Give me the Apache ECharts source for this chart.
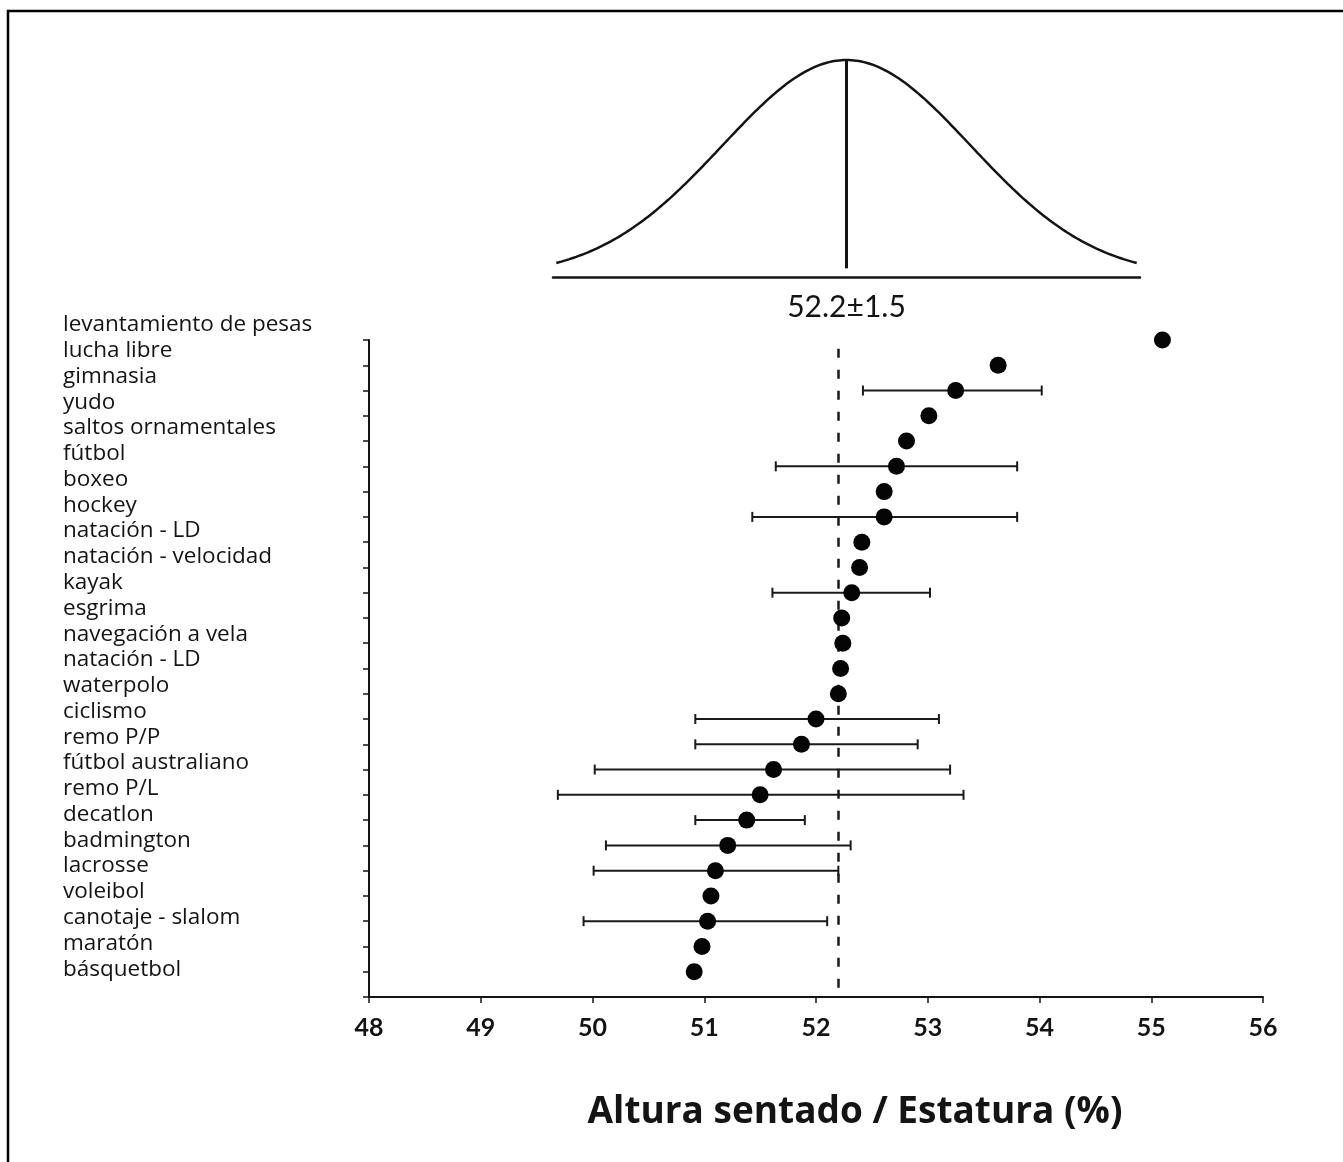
<!DOCTYPE html>
<html>
<head>
<meta charset="utf-8">
<script src="https://cdn.jsdelivr.net/npm/echarts@6/dist/echarts.min.js"></script>
<style>
  html, body { margin: 0; padding: 0; background: #fff; }
  #chart { width: 1343px; height: 1162px; }
</style>
</head>
<body>
<div id="chart"></div>
<script>
// Sports, top to bottom
const sports = [
  'levantamiento de pesas', 'lucha libre', 'gimnasia', 'yudo', 'saltos ornamentales',
  'fútbol', 'boxeo', 'hockey', 'natación - LD', 'natación - velocidad', 'kayak',
  'esgrima', 'navegación a vela', 'natación - LD', 'waterpolo', 'ciclismo', 'remo P/P',
  'fútbol australiano', 'remo P/L', 'decatlon', 'badmington', 'lacrosse', 'voleibol',
  'canotaje - slalom', 'maratón', 'básquetbol'
];

// Mean sitting height / stature (%) for each sport
const means = [
  55.10, 53.63, 53.25, 53.01, 52.81, 52.72, 52.61, 52.61, 52.41, 52.39, 52.32,
  52.23, 52.24, 52.22, 52.20, 52.00, 51.87, 51.62, 51.50, 51.38, 51.21, 51.10,
  51.06, 51.03, 50.98, 50.91
];

// Range ends (mean ± 1 SD) where they are reported, null otherwise
const rangeLow = [
  null, null, 52.42, null, null, 51.64, null, 51.43, null, null, 51.61,
  null, null, null, null, 50.92, 50.92, 50.02, 49.69, 50.92, 50.12, 50.01,
  null, 49.92, null, null
];
const rangeHigh = [
  null, null, 54.02, null, null, 53.80, null, 53.80, null, null, 53.02,
  null, null, null, null, 53.10, 52.91, 53.20, 53.32, 51.90, 52.31, 52.20,
  null, 52.10, null, null
];

// Reference population: 52.2 ± 1.5
const popMean = 52.2;
const popSd = 1.5;

// x-axis ticks
const xMin = 48, xMax = 56, xStep = 1;

// Bell curve of the reference population (peak scaled to 1).
// The sketch is drawn over ±2.34 SD, spread across its own axis.
const curveSd = 2.34;          // SDs shown on each side of the mean
const curveHalfWidth = 3.51;   // half width of the sketch, in its axis units
const curve = [];
for (let i = 0; i <= 234; i++) {
  const x = popMean - curveHalfWidth + i * (2 * curveHalfWidth / 234);
  const z = (x - popMean) / curveHalfWidth * curveSd;
  curve.push([x, Math.exp(-0.5 * z * z)]);
}

const dots = means.map((m, i) => [m, i]);
const ranges = [];
rangeLow.forEach((lo, i) => {
  if (lo !== null) ranges.push([lo, rangeHigh[i], i]);
});

const ink = '#141414';
const chart = echarts.init(document.getElementById('chart'), null, { renderer: 'canvas' });

chart.setOption({
  backgroundColor: '#ffffff',
  animation: false,
  graphic: [{
    type: 'rect',
    shape: { x: 8, y: 11, width: 1400, height: 1300 },
    style: { fill: 'none', stroke: '#000', lineWidth: 2.5 },
    silent: true
  }],
  grid: [
    { left: 369, top: 340, width: 894, height: 657 },   // dot plot
    { left: 369, top: 312, width: 1, height: 670 },     // sport names
    { left: 553, top: 60, width: 587, height: 217 }     // reference curve
  ],
  xAxis: [
    {
      gridIndex: 0, type: 'value', min: xMin, max: xMax, interval: xStep,
      axisLine: { show: true, onZero: false, lineStyle: { color: ink, width: 2 } },
      axisTick: { show: true, length: 6, lineStyle: { color: ink, width: 1.5 } },
      axisLabel: { margin: 18, color: ink, fontFamily: 'Lato', fontSize: 25, fontWeight: 'bold' },
      splitLine: { show: false },
      name: 'Altura sentado / Estatura (%)',
      nameLocation: 'middle', nameGap: 97,
      nameTextStyle: {
        color: ink, fontFamily: 'Open Sans', fontSize: 37, fontWeight: 'bold',
        padding: [0, 0, 0, 78]
      }
    },
    { gridIndex: 1, type: 'value', show: false },
    {
      gridIndex: 2, type: 'value', min: popMean - 3.55, max: popMean + 3.55,
      axisLine: { show: true, lineStyle: { color: ink, width: 2.5 } },
      axisTick: { show: false }, axisLabel: { show: false }, splitLine: { show: false },
      name: popMean.toFixed(1) + '±' + popSd.toFixed(1),
      nameLocation: 'middle', nameGap: 15,
      nameTextStyle: { color: ink, fontFamily: 'Lato', fontSize: 30 }
    }
  ],
  yAxis: [
    {
      gridIndex: 0, type: 'value', min: 0, max: sports.length, interval: 1, inverse: true,
      axisLine: { show: true, lineStyle: { color: ink, width: 2 } },
      axisTick: { show: true, length: 6, lineStyle: { color: ink, width: 1.5 } },
      axisLabel: { show: false }, splitLine: { show: false }
    },
    {
      gridIndex: 1, type: 'category', data: sports, inverse: true,
      axisLine: { show: false }, axisTick: { show: false },
      axisLabel: {
        interval: 0, margin: 306, align: 'left', color: ink,
        fontFamily: 'Open Sans', fontSize: 22.5
      }
    },
    { gridIndex: 2, type: 'value', min: 0, max: 1, show: false }
  ],
  series: [
    {
      name: 'rangos', type: 'custom', xAxisIndex: 0, yAxisIndex: 0,
      data: ranges, encode: { x: [0, 1], y: 2 }, z: 3,
      renderItem: function (params, api) {
        const a = api.coord([api.value(0), api.value(2)]);
        const b = api.coord([api.value(1), api.value(2)]);
        const cap = 5;
        const st = { stroke: '#1a1a1a', lineWidth: 2 };
        return {
          type: 'group',
          children: [
            { type: 'line', shape: { x1: a[0], y1: a[1], x2: b[0], y2: b[1] }, style: st },
            { type: 'line', shape: { x1: a[0], y1: a[1] - cap, x2: a[0], y2: a[1] + cap }, style: st },
            { type: 'line', shape: { x1: b[0], y1: b[1] - cap, x2: b[0], y2: b[1] + cap }, style: st }
          ]
        };
      }
    },
    {
      name: 'medias', type: 'scatter', xAxisIndex: 0, yAxisIndex: 0,
      data: dots, symbol: 'circle', symbolSize: 17, z: 5,
      itemStyle: { color: '#050505', opacity: 1 },
      markLine: {
        silent: true, symbol: 'none', label: { show: false },
        lineStyle: { color: '#1a1a1a', width: 2.5, type: [9, 12] },
        data: [[{ coord: [popMean, 0.35] }, { coord: [popMean, sports.length] }]]
      }
    },
    {
      name: 'curva', type: 'line', xAxisIndex: 2, yAxisIndex: 2,
      data: curve, showSymbol: false, smooth: false, clip: false,
      lineStyle: { color: ink, width: 2.5 },
      markLine: {
        silent: true, symbol: 'none', label: { show: false },
        lineStyle: { color: ink, width: 3, type: 'solid' },
        data: [[{ coord: [popMean, 1] }, { coord: [popMean, 0.04] }]]
      }
    }
  ]
});
</script>
</body>
</html>
